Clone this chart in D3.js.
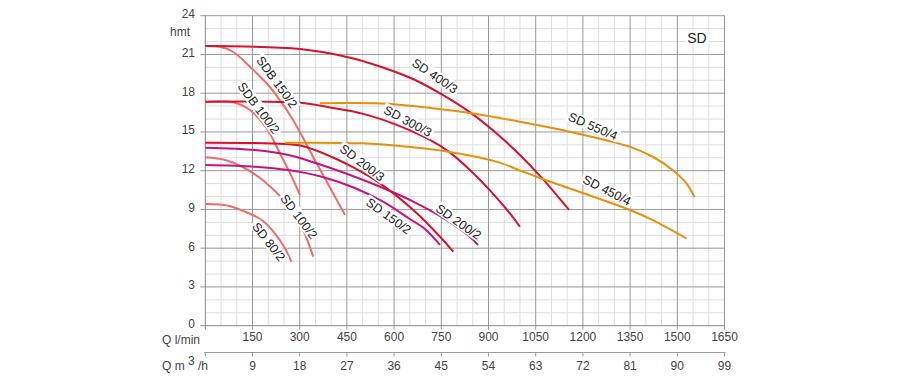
<!DOCTYPE html>
<html><head><meta charset="utf-8">
<script src="https://cdn.jsdelivr.net/npm/d3@7"></script>
<style>
body{margin:0;background:#fff}
svg{display:block}
text{font-family:Arial,"Liberation Sans",sans-serif}
</style>
</head><body>
<svg id="chart" width="900" height="379"></svg>
<script>
// ---- data ----
const qTicksLmin = [150,300,450,600,750,900,1050,1200,1350,1500,1650];
const qTicksM3h  = [9,18,27,36,45,54,63,72,81,90,99];
const hTicks     = [0,3,6,9,12,15,18,21,24];

// [Q l/min, H m]
const sd80_2   = [[0,9.42],[73,9.29],[126,8.83],[179,8.18],[221,7.15],[253,5.99],[274,4.95]];
const sd100_2  = [[0,13.04],[63,12.83],[126,12.19],[189,11.15],[253,9.6],[306,7.66],[343,5.34]];
const sdb100_2 = [[0,17.34],[88,17.3],[142,16.7],[195,15.3],[240,13.2],[269,11.82],[301,10.12]];
const sdb150_2 = [[0,21.65],[47,21.6],[88,21.21],[142,20.05],[195,18.77],[237,17.47],[279,15.93],[348,12.83],[444,8.57]];
const sd150_2  = [[0,12.44],[158,12.31],[264,12.05],[370,11.53],[475,10.66],[565,9.6],[650,8.26],[698,7.49],[746,6.25]];
const sd200_2  = [[0,13.78],[158,13.6],[264,13.22],[370,12.44],[475,11.53],[565,10.66],[661,9.61],[767,8.18],[841,6.89],[867,6.25]];
const sd200_3  = [[0,14.17],[253,14.07],[317,13.86],[401,13.08],[475,12.19],[555,11.02],[661,8.96],[746,6.89],[788,5.73]];
const sd300_3  = [[0,17.34],[301,17.26],[396,16.9],[502,16.4],[608,15.55],[714,14.38],[777,13.42],[841,12.05],[904,10.5],[968,8.7],[1000,7.66]];
const sd400_3  = [[0,21.65],[301,21.42],[460,20.75],[555,20.07],[660,19.1],[745,18.0],[846,16.44],[925,14.9],[1000,13.22],[1068,11.48],[1156,8.96]];
const sd450_4  = [[253,14.17],[501,14.12],[618,13.91],[777,13.45],[925,12.7],[1000,12.02],[1068,11.4],[1349,8.96],[1422,8.18],[1529,6.77]];
const sd550_4  = [[364,17.22],[560,17.2],[660,17.0],[846,16.44],[1000,15.79],[1158,15.02],[1348,13.86],[1422,13.08],[1485,12.05],[1529,11.02],[1555,9.94]];

const seriesNames  = ["SD 80/2","SD 100/2","SDB 100/2","SDB 150/2","SD 150/2","SD 200/2","SD 200/3","SD 300/3","SD 400/3","SD 450/4","SD 550/4"];
const seriesValues = [sd80_2,sd100_2,sdb100_2,sdb150_2,sd150_2,sd200_2,sd200_3,sd300_3,sd400_3,sd450_4,sd550_4];

// ---- styles / layout ----
const RED="#d8112b", SALMON="#ee6e67", MAGENTA="#c8127f", ORANGE="#e8900c";
const seriesColors = [SALMON,SALMON,SALMON,SALMON,MAGENTA,MAGENTA,RED,RED,RED,ORANGE,ORANGE];
// label anchor in data coords + rotation (deg)
const labelPos = [[202,6.5,52],[298,8.45,53],[170,16.85,53],[228,18.87,54],[583,8.5,36],[805,8.05,35],[499,12.62,37],[644,15.85,28],[730,19.35,34],[1277,10.5,27],[1232,15.45,23]];

const L=205.3, R=724.5, T=15.7, B=325.7;
const svg = d3.select("#chart");
const x  = d3.scaleLinear().domain([0,1650]).range([L,R]);
const xm = d3.scaleLinear().domain([0,99]).range([L,R]);
const y  = d3.scaleLinear().domain([0,24]).range([B,T]);

// grid
const g = svg.append("g");
const minorX = d3.range(50,1650,50).filter(v=>v%150!==0);
const minorY = d3.range(1,24,1).filter(v=>v%3!==0);
g.selectAll(".mx").data(minorX).join("line").attr("x1",d=>x(d)).attr("x2",d=>x(d)).attr("y1",T).attr("y2",B).attr("stroke","#dedede");
g.selectAll(".my").data(minorY).join("line").attr("x1",L).attr("x2",R).attr("y1",d=>y(d)).attr("y2",d=>y(d)).attr("stroke","#dedede");
g.selectAll(".Mx").data(qTicksLmin).join("line").attr("x1",d=>x(d)).attr("x2",d=>x(d)).attr("y1",T).attr("y2",B+4).attr("stroke","#999");
g.selectAll(".My").data(hTicks.filter(v=>v>0)).join("line").attr("x1",L-5).attr("x2",R).attr("y1",d=>y(d)).attr("y2",d=>y(d)).attr("stroke","#999");
g.append("line").attr("x1",L).attr("x2",L).attr("y1",T).attr("y2",B+4).attr("stroke","#888");
g.append("line").attr("x1",L-5).attr("x2",R).attr("y1",B).attr("y2",B).attr("stroke","#888");

// y tick labels
svg.append("g").selectAll("text").data(hTicks).join("text")
  .attr("x",195).attr("y",d=>y(d)-1.5).attr("text-anchor","end").attr("dominant-baseline","central")
  .attr("font-size",12).attr("fill","#444").text(d=>d);
svg.append("text").attr("x",170).attr("y",32).attr("dominant-baseline","central").attr("font-size",12).attr("fill","#444").text("hmt");

// x tick labels (l/min)
svg.append("g").selectAll("text").data(qTicksLmin).join("text")
  .attr("x",d=>x(d)).attr("y",337).attr("text-anchor","middle").attr("dominant-baseline","central")
  .attr("font-size",12).attr("fill","#444").text(d=>d);
svg.append("text").attr("x",162).attr("y",340).attr("dominant-baseline","central").attr("font-size",12).attr("fill","#444").text("Q l/min");

// second axis m3/h
const ya2 = 352.5;
svg.append("line").attr("x1",L-1).attr("x2",R+1).attr("y1",ya2).attr("y2",ya2).attr("stroke","#9c9c9c");
svg.append("g").selectAll("line").data([0].concat(qTicksM3h)).join("line")
  .attr("x1",d=>xm(d)).attr("x2",d=>xm(d)).attr("y1",ya2).attr("y2",ya2+4).attr("stroke","#9c9c9c");
svg.append("g").selectAll("text").data(qTicksM3h).join("text")
  .attr("x",d=>xm(d)).attr("y",366).attr("text-anchor","middle").attr("dominant-baseline","central")
  .attr("font-size",12).attr("fill","#444").text(d=>d);
const qm = svg.append("text").attr("x",162).attr("y",366).attr("dominant-baseline","central").attr("font-size",12).attr("fill","#444");
qm.append("tspan").text("Q m ");
qm.append("tspan").attr("dy",-5).text("3");
qm.append("tspan").attr("dy",5).text(" /h");

// curves
const line = d3.line().x(d=>x(d[0])).y(d=>y(d[1])).curve(d3.curveCatmullRom.alpha(0.5));
svg.append("g").selectAll("path").data(seriesValues).join("path")
  .attr("d",line).attr("fill","none").attr("stroke",(d,i)=>seriesColors[i]).attr("stroke-width",2);

// labels with tight white background
function addLabel(px,py,ang,txt,size){
  const gg = svg.append("g").attr("transform",`translate(${px},${py}) rotate(${ang})`);
  const r = gg.append("rect").attr("fill","#fff");
  const t = gg.append("text").attr("text-anchor","middle").attr("y",size*0.36)
    .attr("font-size",size).attr("fill","#222").text(txt);
  const bb = t.node().getBBox();
  r.attr("x",bb.x-2).attr("y",-size*0.5).attr("width",bb.width+4).attr("height",size*0.98);
}
seriesNames.forEach((n,i)=>{
  const p = labelPos[i];
  addLabel(x(p[0]),y(p[1]),p[2],n,12.5);
});
addLabel(697,38,0,"SD",14);
</script>
</body></html>
